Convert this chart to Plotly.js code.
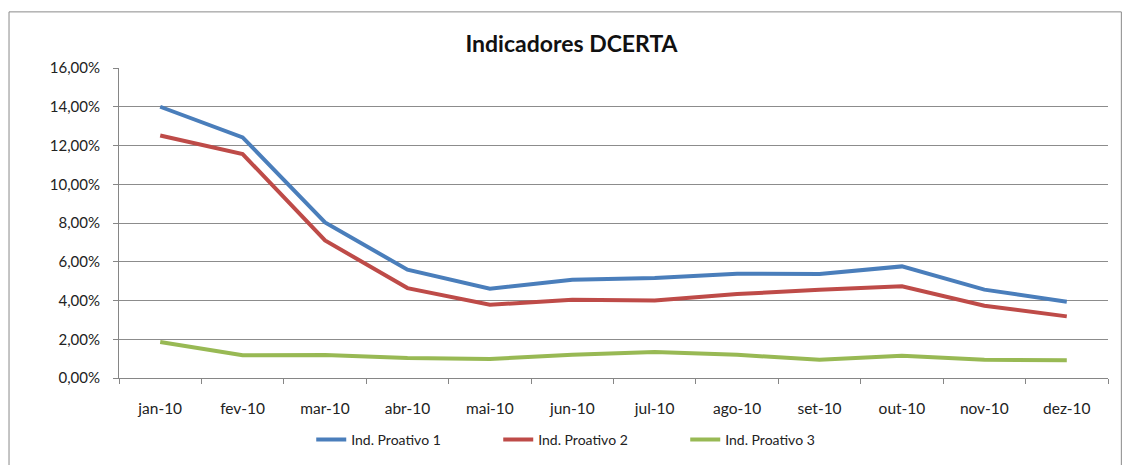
<!DOCTYPE html>
<html><head><meta charset="utf-8">
<script src="https://cdn.plot.ly/plotly-3.0.1.min.js"></script>
<style>body{margin:0;background:#fff}#c{width:1125px;height:465px}</style>
</head><body><div id="c"></div>
<script>
const months = ['jan-10','fev-10','mar-10','abr-10','mai-10','jun-10','jul-10','ago-10','set-10','out-10','nov-10','dez-10'];
const proativo1 = [14.0, 12.42, 8.03, 5.59, 4.61, 5.07, 5.16, 5.38, 5.37, 5.76, 4.56, 3.94];
const proativo2 = [12.52, 11.56, 7.10, 4.64, 3.78, 4.04, 4.00, 4.33, 4.55, 4.73, 3.73, 3.18];
const proativo3 = [1.86, 1.17, 1.19, 1.03, 0.98, 1.20, 1.34, 1.20, 0.94, 1.15, 0.94, 0.91];
const names = ['Ind. Proativo 1','Ind. Proativo 2','Ind. Proativo 3'];
const colors = ['#4A7EBB','#BE4B48','#98B954'];
const series = [proativo1, proativo2, proativo3];
const font = "Lato, 'Open Sans', sans-serif";
const traces = series.map((s,i)=>({x:months,y:s,name:names[i],type:'scatter',mode:'lines',
  line:{color:colors[i],width:4}}));
const layout = {
  width:1125,height:465,
  margin:{l:119,r:17,t:68,b:87},
  paper_bgcolor:'#fff',plot_bgcolor:'#fff',
  separators:', ',
  font:{family:font,size:13,color:'#222'},
  title:{text:'<b>Indicadores DCERTA</b>',font:{family:font,size:23,color:'#111'},x:0.508,xanchor:'center',y:0.905,yanchor:'middle'},
  xaxis:{type:'category',tickson:'boundaries',ticks:'outside',ticklen:5,tickcolor:'#868686',automargin:false,
    showline:true,linecolor:'#868686',linewidth:1,showgrid:false,tickfont:{size:15.5,color:'#222'},
    ticklabelstandoff:16,range:[-0.5,11.5],fixedrange:true},
  yaxis:{range:[0,16],dtick:2,tickformat:'.2f',ticksuffix:'%',ticks:'outside',ticklen:5,tickcolor:'#868686',automargin:false,
    showline:true,linecolor:'#868686',linewidth:1,gridcolor:'#8c8c8c',gridwidth:1,zeroline:false,
    tickfont:{size:15,color:'#222'},ticklabelstandoff:10,fixedrange:true},
  legend:{orientation:'h',xref:'paper',x:0.478,xanchor:'center',yref:'container',y:0.054,yanchor:'middle',
    font:{size:14,color:'#222'},entrywidth:142,entrywidthmode:'pixels',tracegroupgap:0},
  shapes:[{type:'rect',xref:'paper',yref:'paper',x0:-0.1112,x1:1.0135,y0:-0.5,y1:1.181,
    line:{color:'#8a8a8a',width:1},fillcolor:'rgba(0,0,0,0)',layer:'below'}],
  showlegend:true
};
Plotly.newPlot('c',traces,layout,{displayModeBar:false,staticPlot:true});
</script></body></html>
